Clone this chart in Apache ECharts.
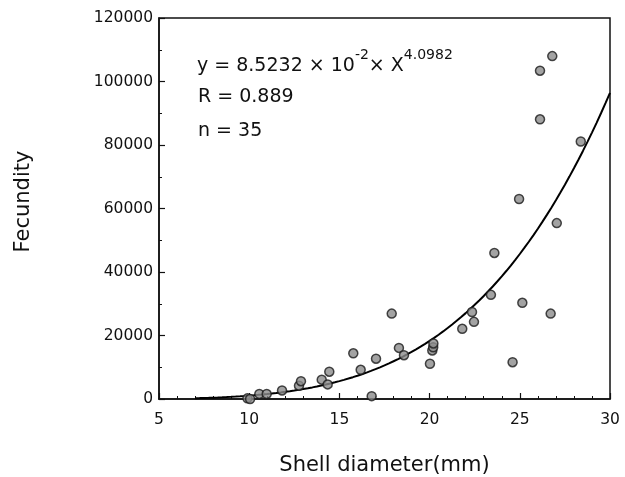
<!DOCTYPE html>
<html>
<head>
<meta charset="utf-8">
<style>
  html, body { margin: 0; padding: 0; background: #fff; }
  #chart { width: 625px; height: 477px; }
</style>
<script src="https://cdn.jsdelivr.net/npm/echarts@6/dist/echarts.min.js"></script>
</head>
<body>
<div id="chart"></div>
<script>
// Shell diameter (mm) of each sampled individual
const shellDiameter = [
  9.9, 10.05, 10.56, 10.97, 11.82, 12.76, 12.87, 14.02, 14.35, 14.44,
  15.77, 16.18, 16.79, 17.03, 17.90, 18.30, 18.58, 20.02, 20.15, 20.20,
  20.21, 21.81, 22.35, 22.46, 23.40, 23.59, 24.60, 24.96, 25.14, 26.12,
  26.12, 26.71, 26.80, 27.05, 28.38
];
// Fecundity (eggs) of the same individuals
const fecundity = [
  200, 0, 1600, 1600, 2700, 4200, 5600, 6100, 4600, 8600,
  14400, 9200, 900, 12700, 26900, 16100, 13800, 11100, 15300, 16300,
  17500, 22100, 27400, 24300, 32800, 46000, 11600, 63000, 30300, 88100,
  103400, 26900, 108000, 55400, 81100
];
// Power-law fit y = a * x^b
const fitA = 8.5232e-2;
const fitB = 4.0982;
const fitR = '0.889';
const sampleN = 35;
const fitRange = [7, 30];

// Axis ticks
const xTicks = [5, 10, 15, 20, 25, 30];
const yTicks = [0, 20000, 40000, 60000, 80000, 100000, 120000];

const points = shellDiameter.map((x, i) => [x, fecundity[i]]);
const fitLine = [];
for (let x = fitRange[0]; x <= fitRange[1] + 1e-9; x += 0.25) {
  fitLine.push([x, fitA * Math.pow(x, fitB)]);
}

const FONT = 'DejaVu Sans';
const INK = '#111';
const chart = echarts.init(document.getElementById('chart'), null, { renderer: 'canvas' });

chart.setOption({
  animation: false,
  backgroundColor: '#ffffff',
  grid: {
    left: 159, right: 15, top: 18, bottom: 78,
    outerBoundsMode: 'none',
    containLabel: false,
    show: true, borderColor: INK, borderWidth: 1.5, backgroundColor: 'transparent'
  },
  xAxis: {
    type: 'value',
    min: xTicks[0], max: xTicks[xTicks.length - 1], interval: xTicks[1] - xTicks[0],
    name: 'Shell diameter(mm)',
    nameLocation: 'middle', nameGap: 56,
    nameTextStyle: { fontFamily: FONT, fontSize: 21, color: INK },
    axisLine: { show: true, onZero: false, lineStyle: { color: INK, width: 1.5 } },
    axisTick: { show: true, inside: true, length: 6, lineStyle: { color: INK, width: 1.2 } },
    minorTick: { show: true, splitNumber: 5, length: 3, lineStyle: { color: INK, width: 1 } },
    axisLabel: { fontFamily: FONT, fontSize: 15.5, color: INK, margin: 13 },
    splitLine: { show: false }
  },
  yAxis: {
    type: 'value',
    min: yTicks[0], max: yTicks[yTicks.length - 1], interval: yTicks[1] - yTicks[0],
    name: 'Fecundity',
    nameLocation: 'middle', nameGap: 125, nameRotate: 90,
    nameTextStyle: { fontFamily: FONT, fontSize: 21, color: INK, padding: [0, 0, 0, 14] },
    axisLine: { show: true, onZero: false, lineStyle: { color: INK, width: 1.5 } },
    axisTick: { show: true, inside: true, length: 6, lineStyle: { color: INK, width: 1.2 } },
    minorTick: { show: true, splitNumber: 2, length: 3, lineStyle: { color: INK, width: 1 } },
    axisLabel: { fontFamily: FONT, fontSize: 15.5, color: INK, margin: 6, formatter: v => String(v) },
    splitLine: { show: false }
  },
  series: [
    {
      type: 'line',
      data: fitLine,
      showSymbol: false,
      smooth: false,
      lineStyle: { color: '#000', width: 2 },
      z: 2
    },
    {
      type: 'scatter',
      data: points,
      symbol: 'circle',
      symbolSize: 9,
      itemStyle: { color: '#8c8c8c', borderColor: '#1a1a1a', borderWidth: 1.5 },
      z: 3
    }
  ],
  graphic: [
    {
      type: 'text', left: 197, top: 48,
      style: {
        text: '{a|y = 8.5232 × 10}{s|-2}{a|× X}{s|4.0982}',
        rich: {
          a: { fontFamily: FONT, fontSize: 19, fill: INK, lineHeight: 28, verticalAlign: 'bottom' },
          s: { fontFamily: FONT, fontSize: 14, fill: INK, lineHeight: 28, verticalAlign: 'top' }
        }
      }
    },
    {
      type: 'text', left: 198, top: 88,
      style: { text: 'R = ' + fitR, fontFamily: FONT, fontSize: 19, fill: INK }
    },
    {
      type: 'text', left: 198, top: 122,
      style: { text: 'n = ' + sampleN, fontFamily: FONT, fontSize: 19, fill: INK }
    }
  ]
});
</script>
</body>
</html>
